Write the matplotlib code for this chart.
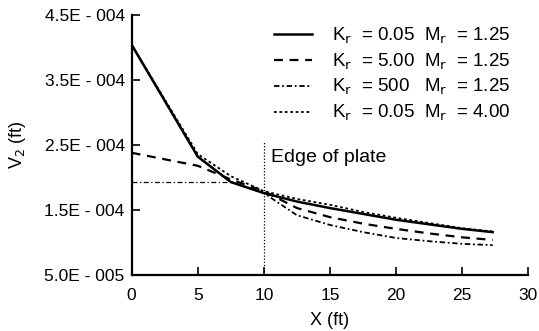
import matplotlib.pyplot as plt
import matplotlib.ticker as mticker

plt.rcParams['font.family'] = ['Liberation Sans', 'DejaVu Sans']

x_a = [0, 5, 7.5, 10, 12.5, 15, 17.5, 20, 22.5, 25, 27.3]
solid = [4.04e-4, 2.32e-4, 1.93e-4, 1.76e-4, 1.63e-4, 1.53e-4, 1.44e-4, 1.35e-4, 1.28e-4, 1.21e-4, 1.16e-4]
dotted = [4.04e-4, 2.36e-4, 2.02e-4, 1.79e-4, 1.67e-4, 1.58e-4, 1.47e-4, 1.38e-4, 1.30e-4, 1.22e-4, 1.17e-4]
dashed = [2.38e-4, 2.18e-4, 1.97e-4, 1.79e-4, 1.53e-4, 1.39e-4, 1.29e-4, 1.21e-4, 1.14e-4, 1.08e-4, 1.04e-4]
dashdot = [4.04e-4, 2.32e-4, 1.93e-4, 1.76e-4, 1.42e-4, 1.27e-4, 1.16e-4, 1.07e-4, 1.02e-4, 0.98e-4, 0.96e-4]

labels = [r"K$_\mathrm{r}$  = 0.05  M$_\mathrm{r}$  = 1.25",
          r"K$_\mathrm{r}$  = 5.00  M$_\mathrm{r}$  = 1.25",
          r"K$_\mathrm{r}$  = 500   M$_\mathrm{r}$  = 1.25",
          r"K$_\mathrm{r}$  = 0.05  M$_\mathrm{r}$  = 4.00"]

ytick_vals = [5e-5, 1.5e-4, 2.5e-4, 3.5e-4, 4.5e-4]
ytick_text = ["5.0E - 005", "1.5E - 004", "2.5E - 004", "3.5E - 004", "4.5E - 004"]

ref_y = 1.93e-4
ref_x_end = 7.3
edge_x = 10
edge_top = 2.55e-4

fig = plt.figure(figsize=(5.39, 3.31), dpi=100)
ax = fig.add_axes([0.2443, 0.169, 0.736, 0.786])

ax.plot(x_a, solid, color='black', lw=1.8, ls='-', label=labels[0])
ax.plot(x_a, dashed, color='black', lw=1.6, ls=(0, (4, 3)), label=labels[1])
ax.plot(x_a, dashdot, color='black', lw=1.3, ls=(0, (3, 1.5, 1, 1.5)), label=labels[2])
ax.plot(x_a, dotted, color='black', lw=1.3, ls=(0, (1.5, 1.5)), label=labels[3])

ax.plot([0, ref_x_end], [ref_y, ref_y], color='black', lw=0.9, ls=(0, (4, 2, 1, 2)))
ax.plot([edge_x, edge_x], [5e-5, edge_top], color='black', lw=0.9, ls=(0, (1, 1.5)))
ax.text(10.5, 2.31e-4, "Edge of plate", fontsize=14, va='center')

ax.set_xlim(0, 30)
ax.set_ylim(5e-5, 4.5e-4)
ax.set_xticks([0, 5, 10, 15, 20, 25, 30])
ax.set_yticks(ytick_vals)
ax.set_yticklabels(ytick_text)
ax.tick_params(direction='in', length=6, width=1.2, labelsize=12.5)
ax.tick_params(axis='x', pad=9)
ax.tick_params(axis='y', pad=5)
ax.spines['top'].set_visible(False)
ax.spines['right'].set_visible(False)
ax.spines['left'].set_linewidth(1.6)
ax.spines['bottom'].set_linewidth(1.6)

ax.set_xlabel("X (ft)", fontsize=13, labelpad=7)
ax.set_ylabel(r"V$_2$ (ft)", fontsize=13, labelpad=12)

leg = ax.legend(loc='upper right', bbox_to_anchor=(0.955, 0.96), frameon=False,
                fontsize=13.5, handlelength=2.0, handletextpad=1.1, labelspacing=0.3,
                borderpad=0, borderaxespad=0)

fig.savefig("out.png", dpi=100)
